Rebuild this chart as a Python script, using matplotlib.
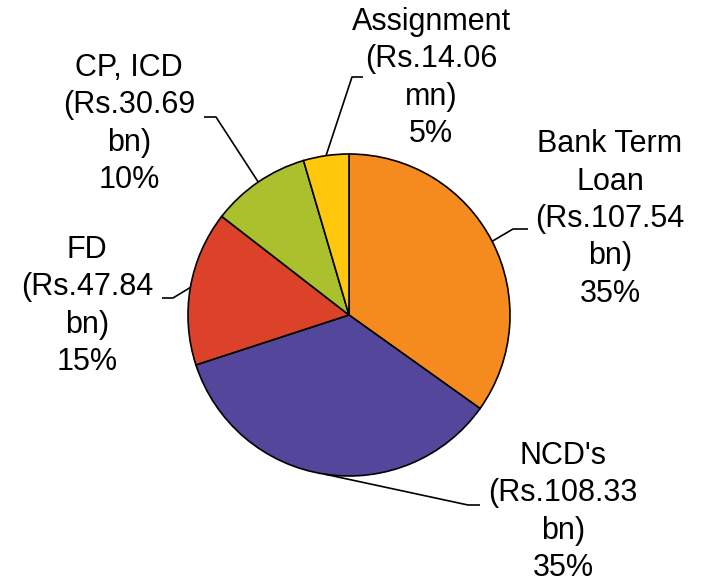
import numpy as np
import matplotlib.pyplot as plt

plt.rcParams['font.family'] = ['Liberation Sans', 'DejaVu Sans']

# Funding mix (Rs. bn)
categories = ["Bank Term\nLoan", "NCD's", "FD", "CP, ICD", "Assignment"]
amounts = [107.54, 108.33, 47.84, 30.69, 14.06]
amount_labels = ["(Rs.107.54\nbn)", "(Rs.108.33\nbn)", "(Rs.47.84\nbn)",
                 "(Rs.30.69\nbn)", "(Rs.14.06\nmn)"]
pct_labels = ["35%", "35%", "15%", "10%", "5%"]
colors = ["#F58A1F", "#54469A", "#DC4229", "#AAC02D", "#FFC80D"]

# layout in pixels: pie centre, radius, label centres, leader elbows
cx, cy, rad = 349, 315, 161
text_pos = [(610, 219), (563, 512), (87, 306), (129, 124), (431, 78)]
elbow = [((513, 229), (528, 229)), ((468, 505), (480, 505)),
         ((173, 298), (162, 298)), ((216, 117), (204, 117)),
         ((352, 77), (363, 77))]


def px(x, y):
    return (x - cx) / rad, (cy - y) / rad


fig = plt.figure(figsize=(7.02, 5.82), dpi=100)
ax = fig.add_axes([0, 0, 1, 1])
wedges, _ = ax.pie(amounts, colors=colors, startangle=90, counterclock=False,
                   radius=1, center=(0, 0),
                   wedgeprops=dict(edgecolor="black", linewidth=1.2))
ax.set_xlim(px(0, 0)[0], px(702, 0)[0])
ax.set_ylim(px(0, 582)[1], px(0, 0)[1])
ax.set_aspect("equal")
ax.axis("off")

for w, cat, amt, pct, tp, (e1, e2) in zip(wedges, categories, amount_labels,
                                          pct_labels, text_pos, elbow):
    mid = np.deg2rad((w.theta1 + w.theta2) / 2)
    edge = (np.cos(mid), np.sin(mid))
    p1 = px(*e1)
    p2 = px(*e2)
    ax.plot([edge[0], p1[0], p2[0]], [edge[1], p1[1], p2[1]],
            color="black", lw=1.2, solid_capstyle="butt")
    tx, ty = px(*tp)
    ax.text(tx, ty, f"{cat}\n{amt}\n{pct}", ha="center", va="center",
            fontsize=22, linespacing=1.32, color="black")

fig.savefig("out.png", dpi=100)
